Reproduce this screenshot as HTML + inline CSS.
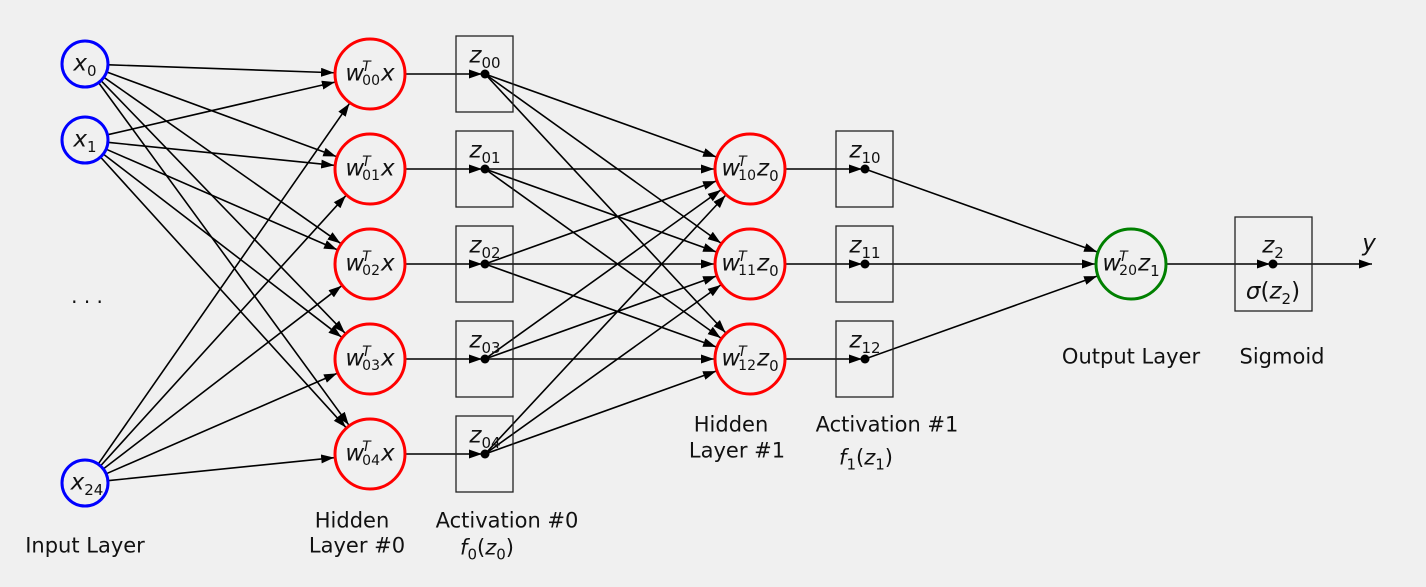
<!DOCTYPE html>
<html><head><meta charset="utf-8"><style>
html,body{margin:0;padding:0;background:#f0f0f0;}
#w{position:relative;width:1426px;height:587px;overflow:hidden;background:#f0f0f0;font-family:"DejaVu Sans","Liberation Sans",sans-serif;color:#111;}
svg{position:absolute;left:0;top:0;}
.t{position:absolute;transform:translate(-50%,-50%);white-space:nowrap;font-size:21px;line-height:1;}
.m{font-style:italic;font-size:23px;}
.m sub,.m sup{font-style:normal;font-size:15px;line-height:0;}
.m sup{font-style:italic;}
.st{display:inline-flex;flex-direction:column;vertical-align:middle;line-height:1;font-size:14px;margin-left:-2px;margin-right:1px;}
.st i{font-size:14px;}
.st span{font-style:normal;}
</style></head><body><div id="w">
<svg id="s" width="1426" height="587" xmlns="http://www.w3.org/2000/svg">
<defs><marker id="a" markerUnits="userSpaceOnUse" markerWidth="14" markerHeight="10" refX="13" refY="4.5" orient="auto"><path d="M0,0 L13,4.5 L0,9 z" fill="#000"/></marker></defs>
<g id="L" stroke="#000" stroke-width="1.6" fill="none"></g>
<g id="N"></g>
</svg>
<div class="t m" style="left:85px;top:64px">x<sub>0</sub></div>
<div class="t m" style="left:85px;top:140px">x<sub>1</sub></div>
<div class="t m" style="left:87px;top:483px">x<sub>24</sub></div>
<div class="t" style="left:87px;top:296px;font-size:20px">. . .</div>

<div class="t m" style="left:370px;top:74px">w<span class="st"><i>T</i><span>00</span></span>x</div>
<div class="t m" style="left:370px;top:169px">w<span class="st"><i>T</i><span>01</span></span>x</div>
<div class="t m" style="left:370px;top:264px">w<span class="st"><i>T</i><span>02</span></span>x</div>
<div class="t m" style="left:370px;top:359px">w<span class="st"><i>T</i><span>03</span></span>x</div>
<div class="t m" style="left:370px;top:454px">w<span class="st"><i>T</i><span>04</span></span>x</div>

<div class="t m" style="left:485px;top:56px">z<sub>00</sub></div>
<div class="t m" style="left:485px;top:151px">z<sub>01</sub></div>
<div class="t m" style="left:485px;top:246px">z<sub>02</sub></div>
<div class="t m" style="left:485px;top:341px">z<sub>03</sub></div>
<div class="t m" style="left:485px;top:436px">z<sub>04</sub></div>

<div class="t m" style="left:750px;top:169px">w<span class="st"><i>T</i><span>10</span></span>z<sub>0</sub></div>
<div class="t m" style="left:750px;top:264px">w<span class="st"><i>T</i><span>11</span></span>z<sub>0</sub></div>
<div class="t m" style="left:750px;top:359px">w<span class="st"><i>T</i><span>12</span></span>z<sub>0</sub></div>

<div class="t m" style="left:865px;top:151px">z<sub>10</sub></div>
<div class="t m" style="left:865px;top:246px">z<sub>11</sub></div>
<div class="t m" style="left:865px;top:341px">z<sub>12</sub></div>

<div class="t m" style="left:1131px;top:264px">w<span class="st"><i>T</i><span>20</span></span>z<sub>1</sub></div>
<div class="t m" style="left:1273px;top:246px">z<sub>2</sub></div>
<div class="t m" style="left:1273px;top:292px"><span style="font-style:italic">σ</span><span style="font-style:normal">(</span>z<sub>2</sub><span style="font-style:normal">)</span></div>
<div class="t m" style="left:1369px;top:244px">y</div>

<div class="t" style="left:85px;top:546px">Input Layer</div>
<div class="t" style="left:352px;top:521px">Hidden</div>
<div class="t" style="left:357px;top:546px">Layer #0</div>
<div class="t" style="left:507px;top:521px">Activation #0</div>
<div class="t m" style="left:487px;top:548px;font-size:21px">f<sub>0</sub><span style="font-style:normal">(</span>z<sub>0</sub><span style="font-style:normal">)</span></div>
<div class="t" style="left:731px;top:425px">Hidden</div>
<div class="t" style="left:737px;top:451px">Layer #1</div>
<div class="t" style="left:887px;top:425px">Activation #1</div>
<div class="t m" style="left:866px;top:458px;font-size:21px">f<sub>1</sub><span style="font-style:normal">(</span>z<sub>1</sub><span style="font-style:normal">)</span></div>
<div class="t" style="left:1131px;top:357px">Output Layer</div>
<div class="t" style="left:1282px;top:357px">Sigmoid</div>
</div>
<script>
var NS="http://www.w3.org/2000/svg",L=document.getElementById("L"),N=document.getElementById("N");
function el(p,t,a){var e=document.createElementNS(NS,t);for(var k in a)e.setAttribute(k,a[k]);p.appendChild(e);return e;}
function line(x1,y1,r1,x2,y2,r2){var dx=x2-x1,dy=y2-y1,d=Math.hypot(dx,dy),ux=dx/d,uy=dy/d;
 el(L,"line",{x1:x1+ux*r1,y1:y1+uy*r1,x2:x2-ux*r2,y2:y2-uy*r2,"marker-end":"url(#a)"});}
var inp=[[85,64],[85,140],[85,483]],h0=[74,169,264,359,454],h1=[169,264,359];
inp.forEach(function(p){h0.forEach(function(y){line(p[0],p[1],24,370,y,36);});});
h0.forEach(function(y){line(370,y,36,485,y,3);});
h0.forEach(function(y){h1.forEach(function(y2){line(485,y,0,750,y2,36);});});
h1.forEach(function(y){line(750,y,36,865,y,3);line(865,y,0,1131,264,36);});
line(1131,264,36,1273,264,3);
el(L,"line",{x1:1273,y1:264,x2:1372,y2:264,"marker-end":"url(#a)"});
h0.forEach(function(y){el(N,"rect",{x:456,y:y-38,width:57,height:76,fill:"none",stroke:"#222","stroke-width":1.3});});
h1.forEach(function(y){el(N,"rect",{x:836,y:y-38,width:57,height:76,fill:"none",stroke:"#222","stroke-width":1.3});});
el(N,"rect",{x:1235,y:217,width:77,height:94,fill:"none",stroke:"#222","stroke-width":1.3});
inp.forEach(function(p){el(N,"circle",{cx:p[0],cy:p[1],r:23,fill:"#f0f0f0",stroke:"#0000ff","stroke-width":3});});
h0.forEach(function(y){el(N,"circle",{cx:370,cy:y,r:35,fill:"#f0f0f0",stroke:"#ff0000","stroke-width":3});el(N,"circle",{cx:485,cy:y,r:4.5,fill:"#000"});});
h1.forEach(function(y){el(N,"circle",{cx:750,cy:y,r:35,fill:"#f0f0f0",stroke:"#ff0000","stroke-width":3});el(N,"circle",{cx:865,cy:y,r:4.5,fill:"#000"});});
el(N,"circle",{cx:1131,cy:264,r:35,fill:"#f0f0f0",stroke:"#008000","stroke-width":3});
el(N,"circle",{cx:1273,cy:264,r:4.5,fill:"#000"});
</script>
</body></html>
